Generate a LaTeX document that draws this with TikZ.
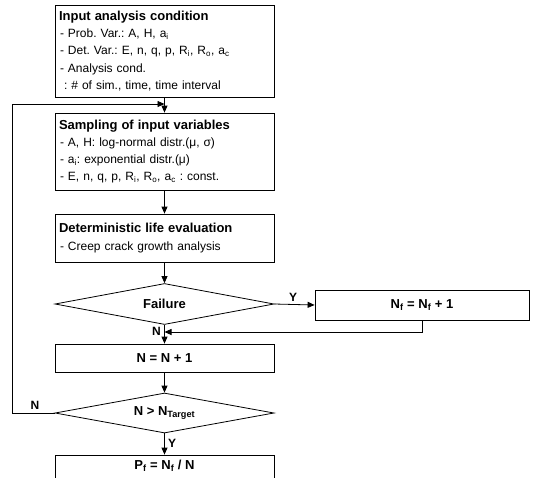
\documentclass[tikz,border=0pt]{standalone}
\usepackage{fontspec}
\setmainfont{Liberation Sans}
\usetikzlibrary{shapes.geometric,arrows.meta}
\newcommand{\sbs}[1]{\textsubscript{#1}}
\newcommand{\ttl}[1]{{\fontsize{13}{17}\selectfont\bfseries #1}}
\begin{document}
\frenchspacing
\begin{tikzpicture}[x=1pt,y=-1pt,
  box/.style={draw, line width=0.8pt, rectangle, inner sep=0pt, minimum width=219pt},
  txt/.style={font=\fontsize{12}{17.3}\selectfont, align=left, text width=211pt},
  ctr/.style={font=\fontsize{13}{15}\selectfont\bfseries},
  dia/.style={draw, line width=0.8pt, diamond, aspect=5, minimum width=219pt, inner sep=0pt, font=\fontsize{13}{15}\selectfont\bfseries},
  arr/.style={-{Triangle[length=7pt,width=6pt]}, line width=0.8pt},
  lbl/.style={font=\fontsize{12}{13}\selectfont\bfseries, inner sep=0pt}]
\useasboundingbox (0,0) rectangle (537,477);
\clip (0,0) rectangle (537,477);

\node[box, txt, minimum height=92pt] (b1) at (164.5,51) {\ttl{Input analysis condition}\\
\hspace{1pt}- Prob. Var.: A, H, a\sbs{i}\\
\hspace{1pt}- Det. Var.: E, n, q, p, R\sbs{i}, R\sbs{o}, a\sbs{c}\\
\hspace{1pt}- Analysis cond.\\
\hspace{5pt}: \# of sim., time, time interval};

\node[box, txt, minimum height=77pt] (b2) at (164.5,151.5) {\ttl{Sampling of input variables}\\
\hspace{1pt}- A, H: log-normal distr.(μ, σ)\\
\hspace{1pt}- a\sbs{i}: exponential distr.(μ)\\
\hspace{1pt}- E, n, q, p, R\sbs{i}, R\sbs{o}, a\sbs{c} : const.};

\node[box, txt, minimum height=48pt] (b3) at (164.5,238) {\ttl{Deterministic life evaluation}\\
\hspace{1pt}- Creep crack growth analysis};

\node[dia, minimum height=41pt] (d1) at (164.5,304) {Failure};

\node[box, ctr, minimum width=214pt, minimum height=30pt] (nf) at (422,305) {N\sbs{f} = N\sbs{f} + 1};

\node[box, ctr, minimum height=28pt] (nb) at (164.5,358) {N = N + 1};

\node[dia, minimum height=40pt] (d2) at (164.5,413) {N > N\sbs{Target}};

\node[box, minimum height=40pt] (pfbox) at (164.5,475) {};
\node[ctr, inner sep=0pt] (pf) at (164.5,466) {P\sbs{f} = N\sbs{f} / N};

\coordinate (m0) at (164.5,104);
\coordinate (m1) at (164.5,332);

\draw[arr] (b1.south) -- (b2.north);
\draw[arr] (b2.south) -- (b3.north);
\draw[arr] (b3.south) -- (d1.north);
\draw[arr] (d1.east) -- (nf.west);
\draw[arr] (d1.south) -- (nb.north);
\draw[arr] (nf.south) |- (m1);
\draw[arr] (nb.south) -- (d2.north);
\draw[arr] (d2.south) -- (pfbox.north);
\draw[arr] (d2.west) -- ++(-42,0) |- (m0);

\node[lbl] (ly1) at (293,297) {Y};
\node[lbl, anchor=east] (ln1) at (161,331) {N};
\node[lbl] (ln2) at (35,405) {N};
\node[lbl, anchor=west] (ly2) at (168,443) {Y};
\end{tikzpicture}
\end{document}
